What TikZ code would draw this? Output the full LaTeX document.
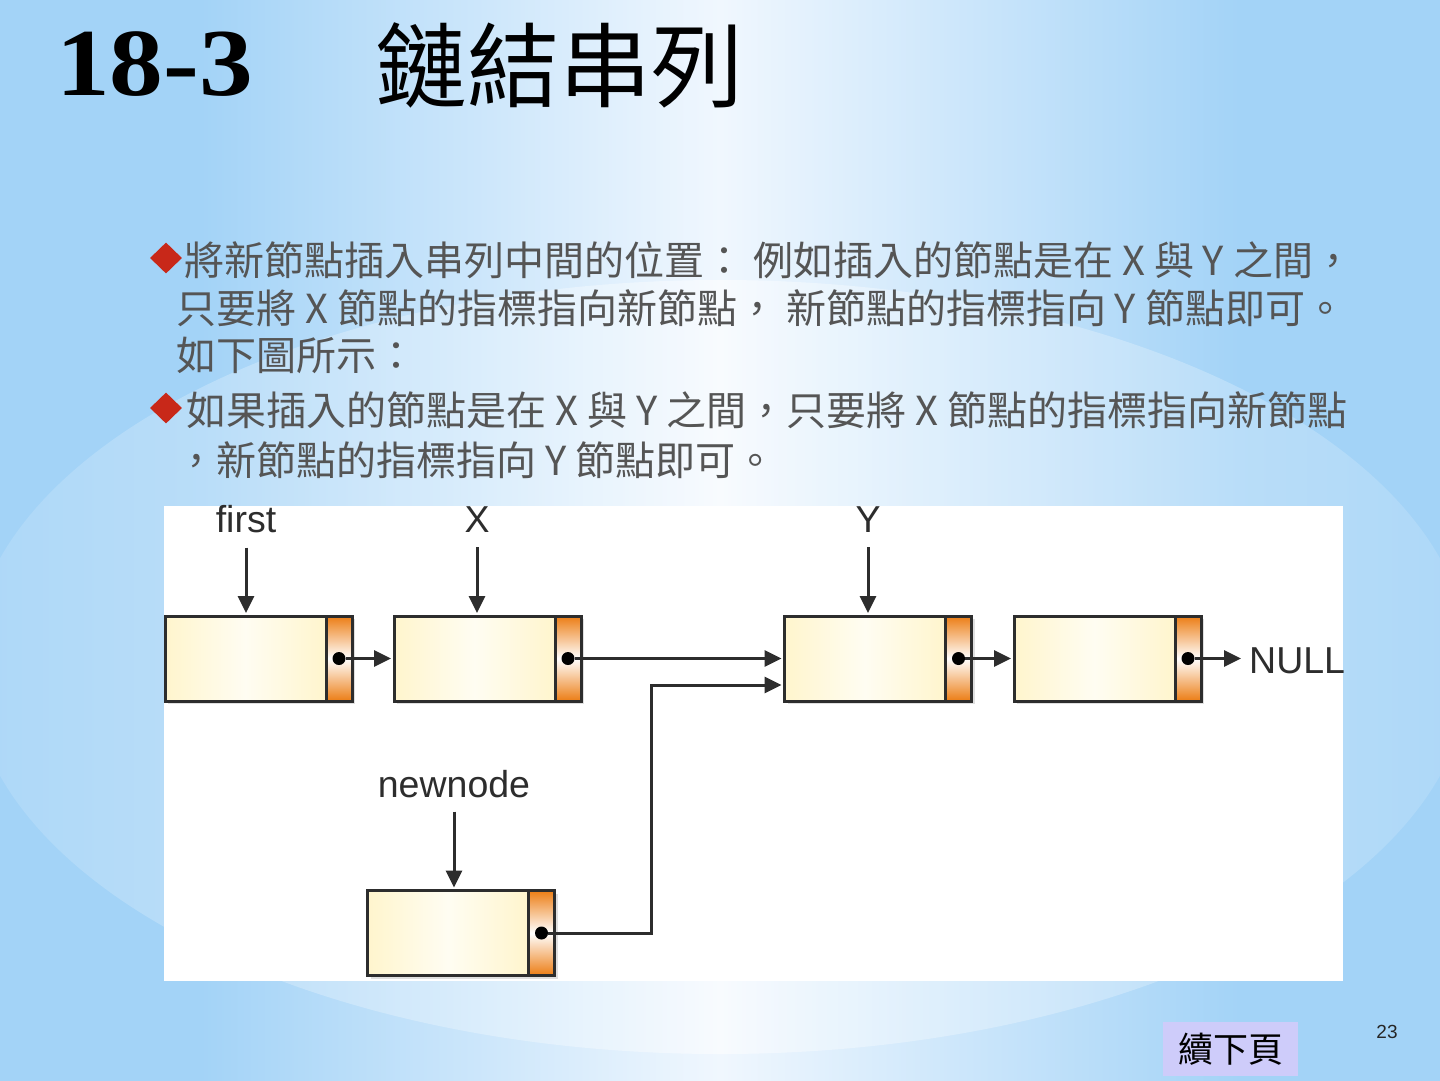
\documentclass[tikz,border=0pt]{standalone}
\usepackage{fontspec}
\setmainfont{Liberation Serif}
\newfontfamily\cjk{Noto Sans CJK TC}
\newfontfamily\dsans{Liberation Sans}
\usetikzlibrary{arrows.meta,shapes.geometric,shadows}
\definecolor{bg}{RGB}{163,211,247}
\definecolor{glow}{RGB}{240,247,254}
\definecolor{lc}{RGB}{45,45,45}
\definecolor{cream}{RGB}{255,245,205}
\definecolor{creamhi}{RGB}{255,253,242}
\definecolor{orng}{RGB}{236,125,20}
\definecolor{bodytext}{RGB}{85,85,85}
\definecolor{bullet}{RGB}{200,40,25}
\definecolor{lav}{RGB}{206,204,250}
\tikzset{
  cell/.style={draw=lc, line width=3pt, minimum width=161pt, minimum height=85pt,
    inner sep=0pt, outer sep=0pt, left color=cream, right color=cream, middle color=creamhi,
    drop shadow={shadow xshift=3pt, shadow yshift=-3pt, opacity=0.25}},
  ptr/.style={draw=lc, line width=3pt, minimum width=26pt, minimum height=85pt,
    inner sep=0pt, outer sep=0pt, top color=orng, bottom color=orng, middle color=white,
    drop shadow={shadow xshift=3pt, shadow yshift=-3pt, opacity=0.25}},
  dotn/.style={circle, fill=black, inner sep=0pt, minimum size=13pt},
  arr/.style={draw=lc, line width=3pt, -{Triangle[length=17pt,width=16pt]}, shorten >=3pt},
  lbl/.style={font=\dsans\fontsize{37.5}{37.5}\selectfont, text=lc, inner sep=0pt},
  body/.style={font=\cjk\fontsize{40}{40}\selectfont, text=bodytext, inner sep=0pt, anchor=base west},
  bul/.style={diamond, fill=bullet, inner sep=0pt, minimum width=32pt, minimum height=31pt},
}
\begin{document}
\begin{tikzpicture}[x=1pt,y=-1pt]
\useasboundingbox (0,0) rectangle (1440,1080);
% background
\begin{scope}
\clip (0,0) rectangle (1440,1080);
\fill[bg] (-10,-10) rectangle (1450,1090);
\shade[left color=bg, right color=bg, middle color=glow] (200,-10) rectangle (1240,1090);
\shade[left color=bg!80!white, right color=bg!80!white, middle color=white, fill opacity=0.55]
  (720,667) ellipse [x radius=750, y radius=387];
\end{scope}
% title
\node[font=\bfseries\fontsize{96}{96}\selectfont, anchor=base west, inner sep=0pt, xscale=1.12] (num) at (56,95) {18-3};
\node[font=\cjk\fontsize{92}{92}\selectfont, anchor=base west, inner sep=0pt] (ttl) at (375,100) {鏈結串列};
% body
\node[bul] (b1) at (166,258) {};
\node[body] (t1) at (184,275) {將新節點插入串列中間的位置： 例如插入的節點是在 X 與 Y 之間，};
\node[body] (t2) at (176,323) {只要將 X 節點的指標指向新節點， 新節點的指標指向 Y 節點即可。};
\node[body] (t3) at (176,370) {如下圖所示：};
\node[bul] (b2) at (166,408) {};
\node[body] (t4) at (186,425) {如果插入的節點是在 X 與 Y 之間，只要將 X 節點的指標指向新節點};
\node[body] (t5) at (176,475) {，新節點的指標指向 Y 節點即可。};
% panel
\fill[white] (164,506) rectangle (1343,981);
% list nodes
\node[cell] (d1) at (245.5,658.5) {};
\node[ptr, anchor=west] (p1) at (d1.east) {};
\node[cell] (d2) at (474.5,658.5) {};
\node[ptr, anchor=west] (p2) at (d2.east) {};
\node[cell] (d3) at (865,658.5) {};
\node[ptr, anchor=west] (p3) at (d3.east) {};
\node[cell] (d4) at (1094.5,658.5) {};
\node[ptr, anchor=west] (p4) at (d4.east) {};
\node[cell] (d5) at (448,933) {};
\node[ptr, anchor=west] (p5) at (d5.east) {};
\node[dotn] (c1) at (p1.center) {};
\node[dotn] (c2) at (p2.center) {};
\node[dotn] (c3) at (p3.center) {};
\node[dotn] (c4) at (p4.center) {};
\node[dotn] (c5) at (p5.center) {};
% labels
\node[lbl, anchor=base] (lfirst) at (246,532) {first};
\node[lbl, anchor=base] (lx) at (477,532) {X};
\node[lbl, anchor=base] (ly) at (868,532) {Y};
\node[lbl, anchor=base] (lnew) at (454,797) {newnode};
\node[lbl, anchor=base west] (null) at (1249,673) {NULL};
% label arrows
\draw[arr, shorten <=15pt] (lfirst.south) -- (lfirst.south |- d1.north);
\draw[arr, shorten <=15pt] (lx.south) -- (lx.south |- d2.north);
\draw[arr, shorten <=15pt] (ly.south) -- (ly.south |- d3.north);
\draw[arr, shorten <=14pt] (lnew.south) -- (lnew.south |- d5.north);
% links
\draw[arr] (c1) -- (d2.west |- c1);
\draw[arr] (c2) -- (d3.west |- c2);
\draw[arr] (c3) -- (d4.west |- c3);
\draw[arr, shorten >=8pt] (c4) -- (null.west |- c4);
\coordinate (bend) at (651,685);
\draw[arr] (c5) -| (bend) -- (d3.west |- bend);
% footer
\node[fill=lav, minimum width=135pt, minimum height=54pt, inner sep=0pt] (next) at (1230.5,1049) {};
\node[font=\cjk\fontsize{35}{35}\selectfont, text=black, inner sep=0pt] (nexttxt) at (next.center) {續下頁};
\node[font=\dsans\fontsize{19}{19}\selectfont, text=black!85, inner sep=0pt] (pg) at (1387,1032) {23};
\end{tikzpicture}
\end{document}
